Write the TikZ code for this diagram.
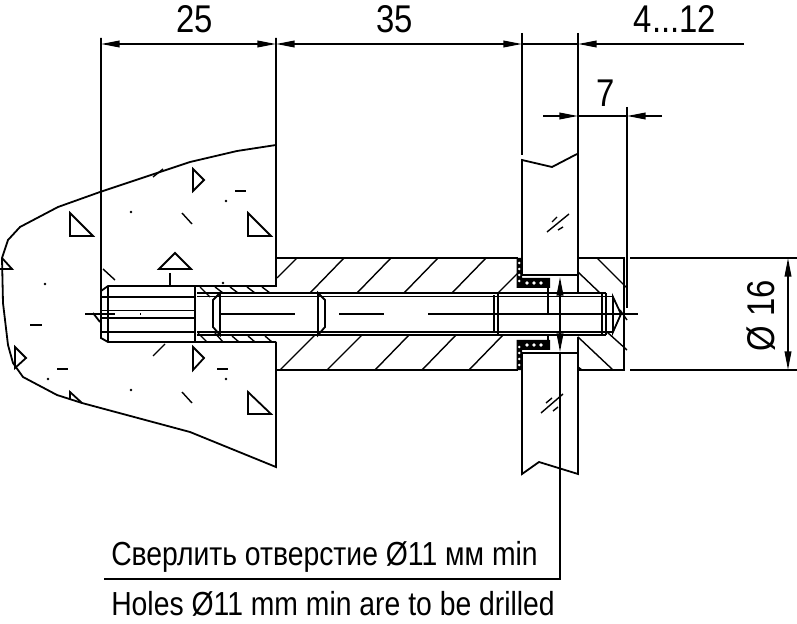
\documentclass[tikz,border=0pt]{standalone}
\usepackage{fontspec}
\setmainfont[FakeStretch=0.85]{Liberation Sans}
\usetikzlibrary{arrows.meta}

\tikzset{
  line/.style={line width=1.35pt},
  thin line/.style={line width=1.05pt},
  dim/.style={line width=1.2pt,{Triangle[length=14pt,width=5pt]}-{Triangle[length=14pt,width=5pt]}},
  dimend/.style={line width=1.2pt,-{Triangle[length=14pt,width=5pt]}},
  label/.style={inner sep=0pt,font=\fontsize{29}{29}\selectfont},
  note/.style={inner sep=0pt,anchor=base west,font=\fontsize{25}{25}\selectfont},
}

\begin{document}
\begin{tikzpicture}[x=0.75pt,y=0.75pt,yscale=-1,xscale=1]
\useasboundingbox (0,0) rectangle (797,624);

%Concrete outline
\draw[line] (276,145) -- (237,151) -- (190,162) -- (100,192) -- (58,207) -- (20,227) -- (8,240) -- (2,258) -- (3,303) -- (8,345) -- (13,363) -- (23,377) -- (57,395) -- (82,403) -- (190,432) -- (276,467) -- (276,342);
%Concrete marks
\draw[line] (70,213) -- (70,236) -- (93,236) -- cycle;
\draw[line] (248,213) -- (248,236) -- (271,236) -- cycle;
\draw[line] (193,169) -- (204,180) -- (193,191) -- cycle;
\draw[line] (175,253) -- (191,269) -- (159,269) -- cycle;
\draw[line] (170,273) -- (170,285);
\draw[line] (2,258) -- (12,269) -- (0,269);
\draw[line] (15,347) -- (26,358) -- (15,368) -- cycle;
\draw[line] (193,347) -- (204,358) -- (193,370) -- cycle;
\draw[line] (248,392) -- (248,414) -- (271,414) -- cycle;
\draw[line] (70,399) -- (70,392) -- (82,403);
\draw[thin line] (153,177) -- (163,169);
\draw[thin line] (182,213) -- (192,224);
\draw[thin line] (103,269) -- (115,280);
\draw[thin line] (153,356) -- (165,344);
\draw[thin line] (182,392) -- (192,403);
\draw[thin line] (235,191) -- (246,191);
\draw[thin line] (30,325) -- (42,325);
\draw[thin line] (57,369) -- (68,369);
\draw[thin line] (217,369) -- (228,369);
\foreach \dotx/\doty in {131/212,226/201,45/284,223/283,48/379,226/379,131/390}
  \fill (\dotx,\doty) circle (1.4);

%Extension lines
\draw[line] (101,38) -- (101,338) -- (108,342) -- (276,342);
\draw[line] (276,38) -- (276,286) -- (108,286) -- (101,291);
\draw[line] (522,33) -- (522,155);
\draw[line] (578,33) -- (578,293);
\draw[line] (627,107) -- (627,308);

%Dimensions
\draw[dim] (101,44) -- (276,44);
\draw[dim] (276,44) -- (522,44);
\draw[line] (522,44) -- (578,44);
\draw[dimend] (744,44) -- (578,44);
\draw[dimend] (543,116) -- (578,116);
\draw[line] (578,116) -- (627,116);
\draw[dimend] (662,116) -- (627,116);
\draw[line] (630,258) -- (797,258);
\draw[line] (630,370) -- (797,370);
\draw[dim] (788,258) -- (788,370);
\node[label] (width25) at (195,19) {25};
\node[label] (width35) at (395,19) {35};
\node[label] (width412) at (675,19) {4...12};
\node[label] (width7) at (606,93) {7};
\node[label,rotate=90] (dia16) at (761,316) {Ø 16};

%Anchor
\draw[line] (108,286) -- (108,342);
\draw[line] (195,286) -- (195,342);
\draw[line] (101,297) -- (195,297);
\draw[line] (101,332) -- (195,332);
\draw[line] (101,310.5) -- (195,310.5);
\draw[line] (101,318) -- (195,318);
\draw[thin line] (85,314) -- (115,314);
\draw[thin line] (140,314) -- (141,314);
\draw[line] (93,313) -- (100,322);
\foreach \hx in {215,230,247,262}
  \draw[thin line] (\hx,287) -- (\hx+8,293);
\draw[thin line] (200,287) -- (210,297);
\draw[thin line] (198,333) -- (207,342);
\draw[thin line] (215,333) -- (223,342);
\foreach \hx in {232,248,265}
  \draw[thin line] (\hx,336) -- (\hx+7,342);

%Threaded rod
\draw[line] (197,293) -- (606,293);
\draw[line] (197,335) -- (606,335);
\draw[thin line] (197,296.5) -- (613,296.5);
\draw[thin line] (197,332) -- (613,332);
\draw[line] (220,293) -- (213,300) -- (213,327) -- (220,335) -- cycle;
\draw[line] (318,293) -- (325,300) -- (325,327) -- (318,335) -- cycle;
\draw[line] (494,295) -- (494,333);
\draw[line] (498,293) -- (498,335);
\draw[line] (602,293) -- (602,335);
\draw[line] (606,293) -- (606,335);
\draw[line] (613,297) -- (621,314) -- (613,332) -- cycle;
\draw[thin line] (220,314) -- (295,314);
\draw[thin line] (339,314) -- (384,314);
\draw[thin line] (428,314) -- (638,314);

%Spacer left
\draw[line] (276,258) -- (518,258);
\draw[line] (276,370) -- (518,370);
\draw[line] (276,342) -- (276,370);
\draw[thin line] (277,278) -- (297,258);
\draw[thin line] (310,293) -- (344,258);
\draw[thin line] (357,293) -- (391,258);
\draw[thin line] (404,293) -- (438,258);
\draw[thin line] (452,293) -- (486,258);
\draw[thin line] (498,293) -- (518,273);
\draw[thin line] (280,370) -- (315,335);
\draw[thin line] (327,370) -- (362,335);
\draw[thin line] (375,370) -- (409,335);
\draw[thin line] (422,370) -- (456,335);
\draw[thin line] (469,370) -- (503,335);

%Spacer right
\draw[line] (578,258) -- (624,258) -- (624,370) -- (578,370);
\draw[thin line] (597,258) -- (627,288);
\draw[thin line] (578,272) -- (600,293);
\draw[thin line] (578,337) -- (613,370);
\draw[thin line] (607,332) -- (627,350);
\draw[thin line] (578,367) -- (582,370);
\draw[thin line] (620,310) -- (627,320);

%Glass
\draw[line] (522,275) -- (522,160) -- (552,167) -- (577,154);
\draw[line] (522,275) -- (578,275);
\draw[line] (522,353) -- (578,353);
\draw[line] (522,353) -- (522,474) -- (539,462) -- (578,474) -- (578,337);
\draw[thin line] (547,232) -- (569,214);
\draw[thin line] (552,222) -- (557,217);
\draw[thin line] (558,230) -- (563,227);
\draw[thin line] (541,413) -- (563,394);
\draw[thin line] (546,403) -- (552,398);
\draw[thin line] (553,411) -- (558,407);

%Gasket
\fill (516.5,258) -- (522,258) -- (522,278) -- (550,278) -- (550,288) -- (516.5,288) -- cycle;
\fill (516.5,370) -- (522,370) -- (522,350) -- (550,350) -- (550,340) -- (516.5,340) -- cycle;
\foreach \gy in {263,269,275,281}
  \fill[white] (519.3,\gy) circle (1.4);
\foreach \gy in {347,353,359,365}
  \fill[white] (519.3,\gy) circle (1.4);
\foreach \gx in {527,534,541}{
  \fill[white] (\gx,283) circle (1.9);
  \fill[white] (\gx,345) circle (1.9);
}
\draw[line] (548,287) -- (548,314);
\draw[line] (548,335) -- (548,341);

%Drill note
\draw[dim] (560,277) -- (560,352);
\draw[line] (560,352) -- (560,579) -- (104,579);
\node[note] (noteru) at (111,565) {Сверлить отверстие Ø11 мм min};
\node[note] (noteen) at (111,615) {Holes Ø11 mm min are to be drilled};

\end{tikzpicture}
\end{document}
